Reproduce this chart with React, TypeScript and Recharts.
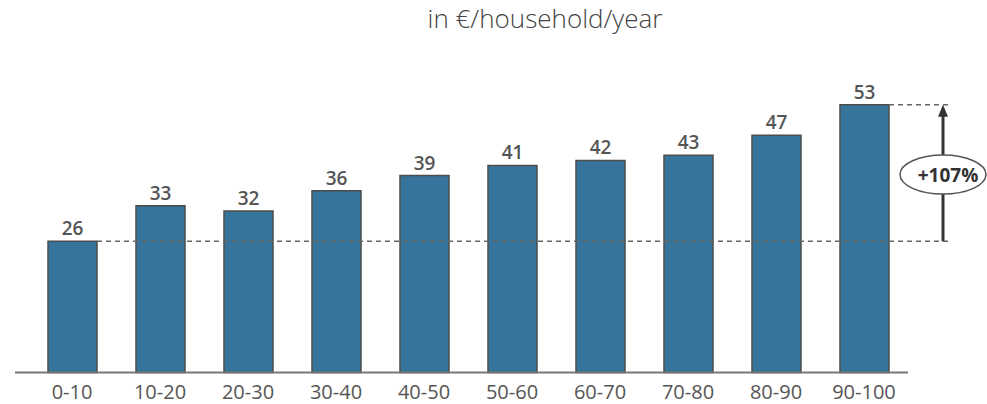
import { BarChart, Bar, XAxis, YAxis, LabelList, ReferenceLine } from 'recharts'

const deciles = ['0-10', '10-20', '20-30', '30-40', '40-50', '50-60', '60-70', '70-80', '80-90', '90-100']
const costs = [26, 33, 32, 36, 39, 41, 42, 43, 47, 53]
const title = 'in €/household/year'
const growthLabel = '+107%'

const data = deciles.map((decile, i) => ({ decile, cost: costs[i] }))

const FONT = '"Open Sans", "Noto Sans", sans-serif'
const BAR_FILL = '#37749b'
const BAR_STROKE = '#4d4d4d'
const HALF_BAR = 25
const ARROW_OFFSET = 79
const DASH_END = 86

const first = costs[0]
const last = costs[costs.length - 1]

// dashed guide from a bar's right edge out to the arrow column
function DashedGuide(props: any) {
  const { x1, y1, x2 } = props
  const startX = props.fromFirst ? x1 + HALF_BAR : x2 + HALF_BAR
  return (
    <line
      x1={startX}
      y1={y1}
      x2={x2 + DASH_END}
      y2={y1}
      stroke="#666"
      strokeWidth={1.5}
      strokeDasharray="5 4"
    />
  )
}

function GrowthArrow(props: any) {
  const { x1, y1, y2 } = props
  const x = x1 + ARROW_OFFSET
  const bottom = Math.max(y1, y2)
  const top = Math.min(y1, y2)
  const mid = (top + bottom) / 2 + 1.5
  return (
    <g>
      <line x1={x} y1={bottom} x2={x} y2={top + 10} stroke="#333" strokeWidth={3} />
      <polygon points={`${x},${top} ${x - 5},${top + 12} ${x + 5},${top + 12}`} fill="#333" />
      <ellipse cx={x} cy={mid} rx={43} ry={19.5} fill="#fff" stroke="#555" strokeWidth={1.5} />
      <text
        x={x + 5}
        y={mid}
        textAnchor="middle"
        dominantBaseline="central"
        fontFamily={FONT}
        fontWeight={700}
        fontSize={19}
        fill="#333"
      >
        {growthLabel}
      </text>
    </g>
  )
}

export default function App() {
  return (
    <div style={{ position: 'relative', width: 987, height: 404, background: '#fff', fontFamily: FONT }}>
      <style>{'body{margin:0}'}</style>
      <div
        style={{
          position: 'absolute',
          left: 0,
          width: 1090,
          top: 1,
          textAlign: 'center',
          fontSize: 26,
          color: '#444',
          fontWeight: 300,
          lineHeight: '34px',
        }}
      >
        {title}
      </div>
      <BarChart
        width={987}
        height={404}
        data={data}
        margin={{ top: 69.5, right: 79, bottom: 0, left: 15 }}
      >
        <YAxis hide domain={[0, 60]} />
        <XAxis
          dataKey="decile"
          padding={{ left: 13, right: 0 }}
          height={31.5}
          tickLine={false}
          axisLine={{ stroke: '#777', strokeWidth: 2 }}
          tick={{ fill: '#555', fontSize: 20, fontFamily: FONT }}
          tickMargin={6}
          interval={0}
        />
        <Bar
          dataKey="cost"
          fill={BAR_FILL}
          stroke={BAR_STROKE}
          strokeWidth={1.5}
          barSize={49}
          isAnimationActive={false}
        >
          <LabelList
            dataKey="cost"
            position="top"
            offset={6}
            fill="#555"
            fontSize={19}
            fontWeight={600}
            fontFamily={FONT}
          />
        </Bar>
        <ReferenceLine
          segment={[
            { x: deciles[0], y: first },
            { x: deciles[deciles.length - 1], y: first },
          ]}
          shape={(p: any) => <DashedGuide {...p} fromFirst />}
        />
        <ReferenceLine
          segment={[
            { x: deciles[deciles.length - 1], y: last },
            { x: deciles[deciles.length - 1], y: last },
          ]}
          shape={(p: any) => <DashedGuide {...p} />}
        />
        <ReferenceLine
          segment={[
            { x: deciles[deciles.length - 1], y: first },
            { x: deciles[deciles.length - 1], y: last },
          ]}
          shape={(p: any) => <GrowthArrow {...p} />}
        />
      </BarChart>
    </div>
  )
}
